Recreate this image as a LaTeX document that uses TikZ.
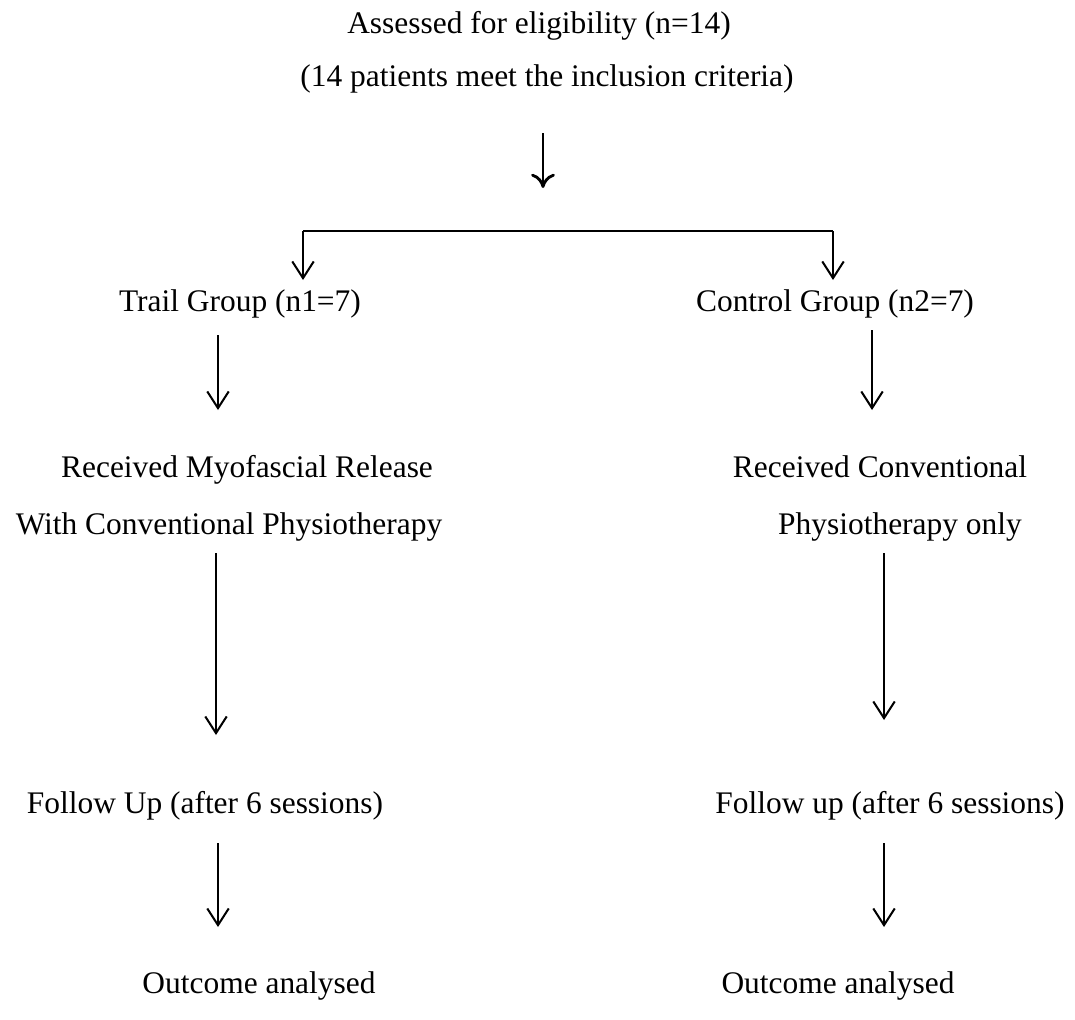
\documentclass[tikz,border=0pt]{standalone}
\usepackage{fontspec}
\setmainfont{Liberation Serif}
\usetikzlibrary{positioning, arrows.meta}

\begin{document}
\begin{tikzpicture}[
    x=0.42pt, y=-0.42pt,
    % Styles
    label/.style={ % Plain text entry, placed by its baseline
        inner sep=0pt,
        anchor=base,
        font=\fontsize{13.2}{15}\selectfont
    },
    arrow/.style={
        -{Straight Barb[length=7pt, width=9pt]},
        line width=0.85pt
    },
    mainarrow/.style={
        -{Computer Modern Rightarrow[length=6pt, width=10pt]},
        line width=1.2pt
    }
]
    \useasboundingbox (0,0) rectangle (1075,1019);

    % Enrolment
    \node[label] (assessed) at (539,33) {Assessed for eligibility (n=14)};
    \node[label] (criteria) at (547,86) {(14 patients meet the inclusion criteria)};

    % Groups
    \node[label] (trail) at (240,311) {Trail Group (n1=7)};
    \node[label] (control) at (835,311) {Control Group (n2=7)};

    % Interventions
    \node[label] (rec1a) at (247,477) {Received Myofascial Release};
    \node[label] (rec1b) at (229,534) {With Conventional Physiotherapy};
    \node[label] (rec2a) at (880,477) {Received Conventional};
    \node[label] (rec2b) at (900,534) {Physiotherapy only};

    % Follow up
    \node[label] (follow1) at (205,813) {Follow Up (after 6 sessions)};
    \node[label] (follow2) at (890,813) {Follow up (after 6 sessions)};

    % Outcome
    \node[label] (outcome1) at (259,993) {Outcome analysed};
    \node[label] (outcome2) at (838,993) {Outcome analysed};

    % Arrow end points
    \coordinate (m1) at (543,133);  \coordinate (m2) at (543,188);
    \coordinate (b1) at (303,280);  \coordinate (b2) at (833,280);
    \coordinate (t1) at (218,335);  \coordinate (t2) at (218,410);
    \coordinate (c1) at (872,330);  \coordinate (c2) at (872,410);
    \coordinate (t3) at (216,553);  \coordinate (t4) at (216,735);
    \coordinate (c3) at (884,553);  \coordinate (c4) at (884,720);
    \coordinate (t5) at (218,843);  \coordinate (t6) at (218,927);
    \coordinate (c5) at (884,843);  \coordinate (c6) at (884,927);

    % Connectors
    \draw[mainarrow] (m1) -- (m2);
    \draw[arrow] (b1) ++(0,-49) -- (b1);
    \draw[arrow, -] (b1) ++(0,-49) -- ++(530,0);
    \draw[arrow] (b2) ++(0,-49) -- (b2);
    \draw[arrow] (t1) -- (t2);
    \draw[arrow] (c1) -- (c2);
    \draw[arrow] (t3) -- (t4);
    \draw[arrow] (c3) -- (c4);
    \draw[arrow] (t5) -- (t6);
    \draw[arrow] (c5) -- (c6);
\end{tikzpicture}
\end{document}
